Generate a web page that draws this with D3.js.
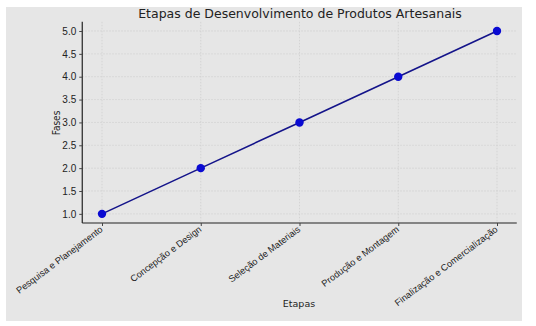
<!DOCTYPE html>
<html><head><meta charset="utf-8">
<script src="https://cdn.jsdelivr.net/npm/d3@7"></script>
<style>
html,body{margin:0;padding:0;background:#fff;}
svg{display:block;font-family:"DejaVu Sans",sans-serif;}
</style></head>
<body><div id="chart"></div>
<script>
const categories = ["Pesquisa e Planejamento","Concepção e Design","Seleção de Materiais","Produção e Montagem","Finalização e Comercialização"];
const values = [1,2,3,4,5];
const yTicks = [1.0,1.5,2.0,2.5,3.0,3.5,4.0,4.5,5.0];
const title = "Etapas de Desenvolvimento de Produtos Artesanais";
const xLabel = "Etapas";
const yLabel = "Fases";

const W = 536, H = 326;
const svg = d3.select("#chart").append("svg").attr("width", W).attr("height", H);
svg.append("rect").attr("x",6).attr("y",7).attr("width",516).attr("height",314).attr("fill","#e6e6e6");

const pL = 82.25, pR = 516.75, pT = 21.85, pB = 223;
const x = d3.scaleLinear().domain([-0.2, 4.2]).range([pL, pR]);
const y = d3.scaleLinear().domain([0.8, 5.2]).range([pB, pT]);

// grid
const g = svg.append("g");
g.selectAll(".gy").data(yTicks).join("line")
  .attr("x1", pL).attr("x2", pR)
  .attr("y1", d=>y(d)).attr("y2", d=>y(d))
  .attr("stroke","#cfcfcf").attr("stroke-width",0.8).attr("stroke-dasharray","1.5,1.5");
g.selectAll(".gx").data(categories).join("line")
  .attr("x1", (d,i)=>x(i)).attr("x2", (d,i)=>x(i))
  .attr("y1", pT).attr("y2", pB)
  .attr("stroke","#cfcfcf").attr("stroke-width",0.8).attr("stroke-dasharray","1.5,1.5");

// axes
const yAxis = d3.axisLeft(y).tickValues(yTicks).tickFormat(d3.format(".1f")).tickSize(3).tickPadding(3);
const ya = svg.append("g").attr("transform",`translate(${pL},0)`).call(yAxis);
ya.select(".domain").attr("stroke","#222").attr("stroke-width",1.2).attr("d",`M0,${pT}V${pB}`);
ya.selectAll(".tick line").attr("stroke","#444");
ya.selectAll("text").attr("font-size","10px").attr("fill","#222");

const xAxis = d3.axisBottom(x).tickValues(d3.range(categories.length)).tickFormat(i=>categories[i]).tickSize(3).tickPadding(3);
const xa = svg.append("g").attr("transform",`translate(0,${pB})`).call(xAxis);
xa.select(".domain").attr("stroke","#222").attr("stroke-width",1.2).attr("d",`M${pL},0H${pR}`);
xa.selectAll(".tick line").attr("stroke","#444");
xa.selectAll("text").attr("font-size","9.3px").attr("fill","#222")
  .attr("text-anchor","end").attr("x",0).attr("y",0).attr("dy","0.35em")
  .attr("transform","translate(-1,5) rotate(-37)");

// line
const line = d3.line().x((d,i)=>x(i)).y(d=>y(d));
svg.append("path").datum(values).attr("d", line).attr("fill","none")
  .attr("stroke","#14148a").attr("stroke-width",1.6);
svg.selectAll(".pt").data(values).join("circle")
  .attr("cx",(d,i)=>x(i)).attr("cy",d=>y(d)).attr("r",4.2).attr("fill","#0a0ad2");

// labels
svg.append("text").attr("x",300).attr("y",18).attr("text-anchor","middle")
  .attr("font-size","12.5px").attr("fill","#222").text(title);
svg.append("text").attr("x",299).attr("y",307).attr("text-anchor","middle")
  .attr("font-size","9.5px").attr("fill","#222").text(xLabel);
svg.append("text").attr("transform","translate(60,123) rotate(-90)").attr("text-anchor","middle")
  .attr("font-size","10px").attr("fill","#222").attr("font-family","'Liberation Sans Narrow','DejaVu Sans Condensed',sans-serif").text(yLabel);
</script></body></html>
